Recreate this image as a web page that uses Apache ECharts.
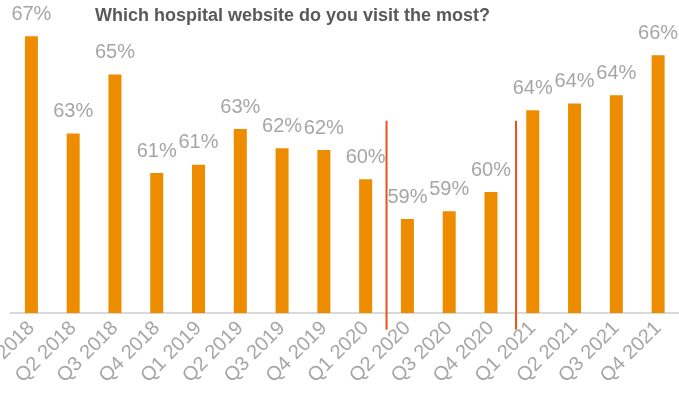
<!DOCTYPE html>
<html>
<head>
<meta charset="utf-8">
<script src="https://cdn.jsdelivr.net/npm/echarts@6/dist/echarts.min.js"></script>
<style>
html,body{margin:0;padding:0;background:#fff;}
#chart{width:679px;height:400px;}
</style>
</head>
<body>
<div id="chart"></div>
<script>
const titleText = 'Which hospital website do you visit the most?';
const categories = ['Q1 2018','Q2 2018','Q3 2018','Q4 2018','Q1 2019','Q2 2019','Q3 2019','Q4 2019',
  'Q1 2020','Q2 2020','Q3 2020','Q4 2020','Q1 2021','Q2 2021','Q3 2021','Q4 2021'];
const values = [67.32, 62.64, 65.48, 60.73, 61.13, 62.85, 61.93, 61.84,
  60.44, 58.52, 58.90, 59.82, 63.76, 64.08, 64.47, 66.40];
// divider positions on a band scale (0 = left edge of first category)
const dividers = [9, 12.1];
const dividerSpan = [53.2, 63.25];

const FONT = "'Liberation Sans', Arial, sans-serif";
const chart = echarts.init(document.getElementById('chart'));
chart.setOption({
  animation: false,
  title: {
    text: titleText, left: 90, top: 2,
    textStyle: {fontFamily: FONT, fontSize: 18, fontWeight: 'bold', color: '#595959'}
  },
  grid: {left: 10.5, right: 0, top: 22, bottom: 87, containLabel: false, outerBoundsMode: 'none'},
  xAxis: [{
    type: 'category', data: categories,
    axisLine: {show: true, lineStyle: {color: '#d9d9d9', width: 2}},
    axisTick: {show: false},
    axisLabel: {rotate: 45, margin: 12, interval: 0, color: '#a6a6a6', fontSize: 20, fontFamily: FONT}
  }, {
    type: 'value', min: 0, max: categories.length, show: false
  }],
  yAxis: {type: 'value', min: 54, max: 68, show: false, splitLine: {show: false}},
  series: [{
    type: 'bar', data: values, barWidth: 13,
    itemStyle: {color: '#ee8c00'},
    label: {
      show: true, position: 'top', distance: 12,
      formatter: p => Math.round(p.value) + '%',
      color: '#a6a6a6', fontSize: 20, fontFamily: FONT
    }
  }, {
    type: 'custom', xAxisIndex: 1, silent: true, clip: false,
    data: dividers.map(d => [d, dividerSpan[1], dividerSpan[0]]),
    renderItem: (params, api) => {
      const p1 = api.coord([api.value(0), api.value(1)]);
      const p2 = api.coord([api.value(0), api.value(2)]);
      return {
        type: 'line',
        shape: {x1: p1[0], y1: p1[1], x2: p2[0], y2: p2[1]},
        style: {stroke: '#e8501e', lineWidth: 2}
      };
    }
  }]
});
</script>
</body>
</html>
